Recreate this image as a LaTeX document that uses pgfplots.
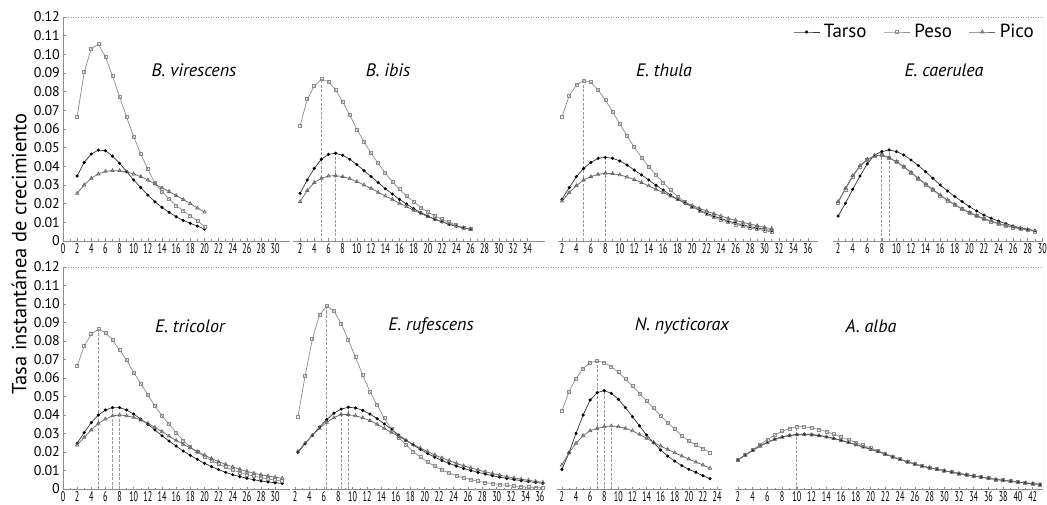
\documentclass[border=0pt]{standalone}
\usepackage{fontspec}
\setmainfont{PT Sans}
\newfontfamily\condfont{PT Sans}[FakeStretch=0.58]
\usepackage{pgfplots}
\usepackage{pgfplotstable}
\pgfplotsset{compat=1.18}

% one table per species: age, Tarso, Peso, Pico
\pgfplotstableread{
x tarso peso pico
2 0.0348 0.0666 0.0255
3 0.0421 0.0904 0.0300
4 0.0466 0.1032 0.0336
5 0.0487 0.1054 0.0359
6 0.0484 0.0988 0.0373
7 0.0455 0.0884 0.0377
8 0.0416 0.0773 0.0377
9 0.0372 0.0663 0.0370
10 0.0327 0.0559 0.0359
11 0.0286 0.0466 0.0345
12 0.0246 0.0384 0.0327
13 0.0210 0.0310 0.0305
14 0.0180 0.0265 0.0285
15 0.0154 0.0225 0.0265
16 0.0130 0.0190 0.0244
17 0.0110 0.0162 0.0222
18 0.0095 0.0135 0.0200
19 0.0080 0.0108 0.0177
20 0.0064 0.0078 0.0155
}\virescens

\pgfplotstableread{
x tarso peso pico
2 0.0255 0.0616 0.0211
3 0.0327 0.0759 0.0270
4 0.0389 0.0830 0.0313
5 0.0438 0.0866 0.0336
6 0.0464 0.0854 0.0348
7 0.0470 0.0809 0.0350
8 0.0459 0.0746 0.0345
9 0.0438 0.0675 0.0334
10 0.0409 0.0598 0.0318
11 0.0377 0.0532 0.0300
12 0.0345 0.0470 0.0282
13 0.0313 0.0416 0.0261
14 0.0280 0.0363 0.0241
15 0.0252 0.0318 0.0223
16 0.0223 0.0277 0.0202
17 0.0198 0.0241 0.0184
18 0.0173 0.0211 0.0164
19 0.0152 0.0180 0.0148
20 0.0134 0.0155 0.0130
21 0.0116 0.0134 0.0116
22 0.0102 0.0116 0.0104
23 0.0089 0.0100 0.0091
24 0.0079 0.0084 0.0080
25 0.0070 0.0073 0.0071
26 0.0063 0.0063 0.0063
}\ibis

\pgfplotstableread{
x tarso peso pico
2 0.0223 0.0666 0.0214
3 0.0286 0.0779 0.0259
4 0.0345 0.0836 0.0296
5 0.0389 0.0859 0.0327
6 0.0421 0.0850 0.0345
7 0.0443 0.0809 0.0357
8 0.0448 0.0755 0.0363
9 0.0443 0.0693 0.0361
10 0.0429 0.0627 0.0354
11 0.0407 0.0563 0.0343
12 0.0380 0.0502 0.0329
13 0.0354 0.0448 0.0313
14 0.0327 0.0398 0.0295
15 0.0298 0.0354 0.0277
16 0.0273 0.0313 0.0259
17 0.0246 0.0273 0.0241
18 0.0223 0.0238 0.0223
19 0.0202 0.0209 0.0207
20 0.0184 0.0184 0.0191
21 0.0166 0.0162 0.0175
22 0.0148 0.0143 0.0161
23 0.0134 0.0127 0.0146
24 0.0120 0.0113 0.0134
25 0.0107 0.0100 0.0121
26 0.0096 0.0089 0.0111
27 0.0086 0.0079 0.0100
28 0.0077 0.0070 0.0091
29 0.0070 0.0063 0.0082
30 0.0063 0.0055 0.0073
31 0.0055 0.0048 0.0066
}\thula

\pgfplotstableread{
x tarso peso pico
2 0.0134 0.0205 0.0211
3 0.0202 0.0276 0.0282
4 0.0277 0.0344 0.0350
5 0.0348 0.0399 0.0404
6 0.0413 0.0434 0.0438
7 0.0461 0.0454 0.0457
8 0.0479 0.0459 0.0461
9 0.0488 0.0445 0.0446
10 0.0479 0.0423 0.0425
11 0.0461 0.0396 0.0398
12 0.0434 0.0366 0.0368
13 0.0404 0.0333 0.0336
14 0.0371 0.0302 0.0305
15 0.0336 0.0273 0.0277
16 0.0300 0.0243 0.0246
17 0.0268 0.0217 0.0220
18 0.0238 0.0193 0.0196
19 0.0211 0.0170 0.0173
20 0.0184 0.0151 0.0154
21 0.0161 0.0133 0.0136
22 0.0139 0.0117 0.0120
23 0.0121 0.0104 0.0107
24 0.0107 0.0092 0.0095
25 0.0093 0.0081 0.0084
26 0.0080 0.0072 0.0075
27 0.0071 0.0065 0.0068
28 0.0063 0.0058 0.0061
29 0.0055 0.0051 0.0054
}\caerulea

\pgfplotstableread{
x tarso peso pico
2 0.0247 0.0665 0.0238
3 0.0305 0.0773 0.0279
4 0.0359 0.0838 0.0319
5 0.0400 0.0863 0.0355
6 0.0427 0.0845 0.0378
7 0.0440 0.0805 0.0395
8 0.0440 0.0751 0.0400
9 0.0427 0.0697 0.0396
10 0.0405 0.0629 0.0387
11 0.0378 0.0571 0.0373
12 0.0350 0.0508 0.0355
13 0.0319 0.0449 0.0333
14 0.0288 0.0396 0.0310
15 0.0259 0.0351 0.0286
16 0.0232 0.0305 0.0263
17 0.0205 0.0262 0.0242
18 0.0182 0.0228 0.0222
19 0.0160 0.0200 0.0202
20 0.0139 0.0176 0.0183
21 0.0121 0.0154 0.0165
22 0.0105 0.0135 0.0148
23 0.0090 0.0118 0.0133
24 0.0077 0.0103 0.0119
25 0.0067 0.0090 0.0106
26 0.0058 0.0079 0.0095
27 0.0050 0.0069 0.0085
28 0.0043 0.0061 0.0077
29 0.0038 0.0054 0.0070
30 0.0034 0.0048 0.0064
31 0.0030 0.0043 0.0058
}\tricolor

\pgfplotstableread{
x tarso peso pico
2.4 0.0198 0.0391 0.0203
3.4 0.0245 0.0611 0.0248
4.4 0.0290 0.0809 0.0290
5.4 0.0335 0.0941 0.0328
6.4 0.0375 0.0989 0.0360
7.4 0.0410 0.0962 0.0385
8.4 0.0432 0.0895 0.0404
9.4 0.0442 0.0805 0.0402
10.4 0.0438 0.0712 0.0396
11.4 0.0425 0.0616 0.0385
12.4 0.0405 0.0526 0.0370
13.4 0.0380 0.0454 0.0350
14.4 0.0352 0.0382 0.0328
15.4 0.0322 0.0324 0.0306
16.4 0.0292 0.0279 0.0284
17.4 0.0264 0.0238 0.0262
18.4 0.0238 0.0203 0.0241
19.4 0.0214 0.0172 0.0221
20.4 0.0192 0.0146 0.0202
21.4 0.0172 0.0123 0.0184
22.4 0.0154 0.0103 0.0168
23.4 0.0138 0.0086 0.0153
24.4 0.0124 0.0072 0.0139
25.4 0.0111 0.0060 0.0126
26.4 0.0100 0.0050 0.0114
27.4 0.0090 0.0042 0.0103
28.4 0.0081 0.0035 0.0093
29.4 0.0072 0.0029 0.0084
30.4 0.0064 0.0024 0.0075
31.4 0.0057 0.0020 0.0067
32.4 0.0051 0.0016 0.0060
33.4 0.0045 0.0013 0.0053
34.4 0.0040 0.0010 0.0047
35.4 0.0035 0.0008 0.0041
36.4 0.0031 0.0006 0.0036
}\rufescens

\pgfplotstableread{
x tarso peso pico
2 0.0106 0.0423 0.0130
3 0.0196 0.0526 0.0196
4 0.0301 0.0598 0.0247
5 0.0400 0.0652 0.0288
6 0.0481 0.0683 0.0315
7 0.0521 0.0692 0.0328
8 0.0532 0.0683 0.0337
9 0.0517 0.0661 0.0341
10 0.0485 0.0631 0.0337
11 0.0440 0.0595 0.0328
12 0.0391 0.0557 0.0314
13 0.0341 0.0517 0.0295
14 0.0292 0.0476 0.0274
15 0.0250 0.0436 0.0252
16 0.0211 0.0396 0.0232
17 0.0178 0.0359 0.0214
18 0.0151 0.0323 0.0196
19 0.0126 0.0288 0.0178
20 0.0106 0.0259 0.0162
21 0.0090 0.0238 0.0146
22 0.0072 0.0218 0.0130
23 0.0056 0.0198 0.0112
}\nycticorax

\pgfplotstableread{
x tarso peso pico
2 0.0158 0.0155 0.0156
3 0.0185 0.0182 0.0183
4 0.0210 0.0210 0.0208
5 0.0233 0.0240 0.0231
6 0.0253 0.0267 0.0251
7 0.0270 0.0292 0.0268
8 0.0282 0.0312 0.0280
9 0.0290 0.0327 0.0288
10 0.0295 0.0337 0.0293
11 0.0297 0.0336 0.0294
12 0.0295 0.0331 0.0292
13 0.0290 0.0322 0.0288
14 0.0283 0.0310 0.0281
15 0.0274 0.0296 0.0272
16 0.0264 0.0281 0.0262
17 0.0252 0.0266 0.0251
18 0.0240 0.0251 0.0239
19 0.0228 0.0236 0.0227
20 0.0215 0.0221 0.0214
21 0.0203 0.0206 0.0202
22 0.0188 0.0191 0.0188
23 0.0174 0.0176 0.0174
24 0.0160 0.0161 0.0160
25 0.0147 0.0147 0.0147
26 0.0135 0.0135 0.0135
27 0.0124 0.0124 0.0124
28 0.0115 0.0115 0.0115
29 0.0107 0.0107 0.0107
30 0.0099 0.0099 0.0099
31 0.0091 0.0091 0.0091
32 0.0084 0.0084 0.0084
33 0.0077 0.0077 0.0077
34 0.0070 0.0070 0.0070
35 0.0064 0.0064 0.0064
36 0.0058 0.0058 0.0058
37 0.0052 0.0052 0.0052
38 0.0047 0.0047 0.0047
39 0.0042 0.0042 0.0042
40 0.0037 0.0037 0.0037
41 0.0033 0.0033 0.0033
42 0.0029 0.0029 0.0029
43 0.0025 0.0025 0.0025
}\alba

\pgfplotsset{
  tarso/.style={black!80, line width=0.7pt, mark=*, mark size=1.2pt,
    mark options={solid, fill=black, draw=black}},
  peso/.style={black!45, line width=0.7pt, mark=square, mark size=1.5pt,
    mark options={solid, fill=white, draw=black!45}},
  pico/.style={black!60, line width=0.7pt, mark=triangle, mark size=1.9pt,
    mark options={solid, fill=white, draw=black!60}},
  peakline/.style={black!40, line width=0.9pt, dash pattern=on 3pt off 1.5pt, forget plot},
  frame/.style={scale only axis, anchor=south west, width=980pt,
    xmin=0, xmax=1, ymin=0, ymax=0.12,
    axis line style={draw=none}, xtick=\empty,
    ytick={0,0.01,0.02,0.03,0.04,0.05,0.06,0.07,0.08,0.09,0.10,0.11,0.12},
    yticklabels={0,0.01,0.02,0.03,0.04,0.05,0.06,0.07,0.08,0.09,0.10,0.11,0.12},
    ytick pos=left, tick align=inside, minor y tick num=1,
    major tick length=3pt, minor tick length=1.5pt,
    tick style={black!45, line width=0.5pt},
    yticklabel style={font=\fontsize{14}{14}\selectfont, inner sep=0pt, xshift=-3pt}},
  panel/.style={scale only axis, anchor=south west, ymin=0, ymax=0.12,
    axis line style={draw=none}, ytick=\empty, xtick pos=bottom,
    tick align=inside, major tick length=2.5pt, minor tick length=1.5pt,
    minor x tick num=1, tick style={black!45, line width=0.5pt},
    xticklabel style={font=\condfont\fontsize{14}{14}\selectfont, inner sep=0pt, yshift=-2.5pt},
    /pgf/number format/assume math mode=true, clip=false},
}
\newcommand{\peak}[2]{\addplot[peakline] coordinates {(#1,0) (#1,#2)};}
\newcommand{\curves}[1]{%
  \addplot[tarso] table[x=x, y=tarso] {#1};
  \addplot[peso] table[x=x, y=peso] {#1};
  \addplot[pico] table[x=x, y=pico] {#1};
  \draw[black!45] (rel axis cs:0,0) -- (rel axis cs:1,0);}

\begin{document}
\begin{tikzpicture}
\useasboundingbox (0,0) rectangle (1047pt,504pt);

% frames of the two rows
\begin{axis}[frame, at={(63pt,263pt)}, height=224pt]
\draw[black!45] (rel axis cs:0,0) -- (rel axis cs:0,1);
\draw[black!40, dash pattern=on 1pt off 1.5pt] (rel axis cs:0,1) -- (rel axis cs:1,1) -- (rel axis cs:1,0);
\end{axis}
\begin{axis}[frame, at={(63pt,15pt)}, height=222pt]
\draw[black!45] (rel axis cs:0,0) -- (rel axis cs:0,1);
\draw[black!40, dash pattern=on 1pt off 1.5pt] (rel axis cs:0,1) -- (rel axis cs:1,1) -- (rel axis cs:1,0);
\end{axis}

% top row
\begin{axis}[panel, at={(63pt,263pt)}, width=227pt, height=224pt,
  xmin=0, xmax=32.1, xtick={0,2,...,30}]
\curves{\virescens}
\end{axis}
\begin{axis}[panel, at={(293pt,263pt)}, width=252pt, height=224pt,
  xmin=1.0, xmax=36.5, xtick={2,4,...,34}]
\peak{5}{0.0866}\peak{7}{0.0470}
\curves{\ibis}
\end{axis}
\begin{axis}[panel, at={(558pt,263pt)}, width=260pt, height=224pt,
  xmin=1.45, xmax=37.4, xtick={2,4,...,36}]
\peak{5}{0.0859}\peak{8}{0.0448}
\curves{\thula}
\end{axis}
\begin{axis}[panel, at={(833pt,263pt)}, width=210pt, height=224pt,
  xmin=1.3, xmax=30.1, xtick={2,4,...,30},
  legend columns=3,
  legend image code/.code={\draw[mark repeat=2, mark phase=2, #1]
    plot coordinates {(0pt,0pt) (13pt,0pt) (26pt,0pt)};},
  legend style={draw=none, fill=none, at={(1,1)}, anchor=east,
    xshift=-9pt, yshift=-15pt, inner sep=0pt,
    nodes={inner sep=0pt},
    font=\fontsize{19}{19}\selectfont,
    /tikz/every odd column/.append style={column sep=4pt},
    /tikz/every even column/.append style={column sep=17pt}}]
\peak{8}{0.0461}\peak{9}{0.0488}
\curves{\caerulea}
\legend{Tarso, Peso, Pico}
\end{axis}

% bottom row
\begin{axis}[panel, at={(63pt,15pt)}, width=227pt, height=222pt,
  xmin=0, xmax=32.1, xtick={0,2,...,30}]
\peak{5}{0.0863}\peak{7}{0.0440}\peak{8}{0.0400}
\curves{\tricolor}
\end{axis}
\begin{axis}[panel, at={(292pt,15pt)}, width=253pt, height=222pt,
  xmin=1.58, xmax=36.7, xtick={2,4,...,36}]
\peak{6.4}{0.0989}\peak{8.4}{0.0404}\peak{9.4}{0.0442}
\curves{\rufescens}
\end{axis}
\begin{axis}[panel, at={(557pt,15pt)}, width=165pt, height=222pt,
  xmin=1.3, xmax=24.7, xtick={2,4,...,24}]
\peak{7}{0.0692}\peak{8}{0.0532}\peak{9}{0.0341}
\curves{\nycticorax}
\end{axis}
\begin{axis}[panel, at={(735pt,15pt)}, width=308pt, height=222pt,
  xmin=1.6, xmax=43.4, xtick={2,4,...,42}]
\peak{10}{0.0337}
\curves{\alba}
\end{axis}

% species names and shared y label
\begin{scope}[every node/.style={font=\itshape\fontsize{18}{18}\selectfont}]
\node at (194pt,434pt) {B. virescens};
\node at (388pt,434pt) {B. ibis};
\node at (664pt,434pt) {E. thula};
\node at (944pt,434pt) {E. caerulea};
\node at (190pt,178pt) {E. tricolor};
\node at (431pt,178pt) {E. rufescens};
\node at (682pt,178pt) {N. nycticorax};
\node at (871pt,178pt) {A. alba};
\end{scope}
\node[rotate=90, font=\fontsize{20.5}{20.5}\selectfont] at (19pt,250pt) {Tasa instantánea de crecimiento};
\end{tikzpicture}
\end{document}
